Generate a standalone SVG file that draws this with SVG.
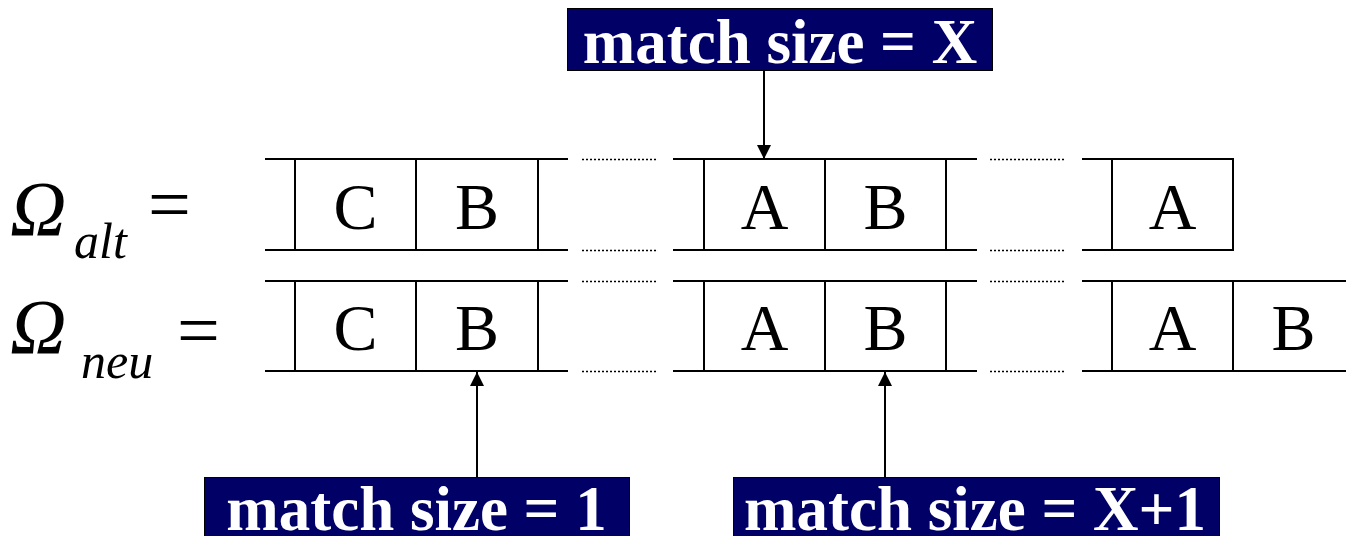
<svg xmlns="http://www.w3.org/2000/svg" width="1346" height="536" viewBox="0 0 1346 536">
  <style>
    .rail { stroke: #000; stroke-width: 2; fill: none; }
    .cell { stroke: #000; stroke-width: 2; fill: none; }
    .dots { stroke: #000; stroke-width: 1.3; stroke-dasharray: 2 2; fill: none; }
    .sym { font-family: "Liberation Serif", "Times New Roman", serif; font-size: 66px; fill: #000; text-anchor: middle; }
    .omega { font-family: "Liberation Serif", "Times New Roman", serif; font-style: italic; fill: #000; }
    .eq { font-family: "Liberation Serif", "Times New Roman", serif; fill: #000; }
    .tag { fill: #000066; stroke: #000; stroke-width: 1; }
    .tagtext { font-family: "Liberation Serif", "Times New Roman", serif; font-weight: bold; font-size: 63px; fill: #fff; text-anchor: middle; }
    .conn { stroke: #000; stroke-width: 2; fill: none; }
  </style>
  <defs>
    <marker id="arrow" viewBox="0 0 14 14" refX="14" refY="7" markerWidth="14" markerHeight="14" markerUnits="userSpaceOnUse" orient="auto">
      <path d="M0,0 L14,7 L0,14 Z" fill="#000"/>
    </marker>
  </defs>

  <!-- row labels -->
  <g id="label-alt">
    <text class="omega" x="10" y="235" font-size="78">Ω</text>
    <text class="omega" x="74" y="258" font-size="50">alt</text>
    <text class="eq" x="148" y="230" font-size="76">=</text>
  </g>
  <g id="label-neu">
    <text class="omega" x="10" y="353" font-size="78">Ω</text>
    <text class="omega" x="81" y="378" font-size="50">neu</text>
    <text class="eq" x="177" y="356" font-size="76">=</text>
  </g>

  <!-- old sequence -->
  <g id="seq-alt">
    <g id="alt-seg1">
      <line class="rail" x1="265" y1="159" x2="568" y2="159"/>
      <line class="rail" x1="265" y1="250" x2="568" y2="250"/>
      <line class="cell" x1="295" y1="159" x2="295" y2="250"/>
      <line class="cell" x1="416" y1="159" x2="416" y2="250"/>
      <line class="cell" x1="538" y1="159" x2="538" y2="250"/>
      <text class="sym" x="355.5" y="229">C</text>
      <text class="sym" x="477" y="229">B</text>
    </g>
    <line class="dots" x1="582" y1="159.5" x2="656" y2="159.5"/>
    <line class="dots" x1="582" y1="250.5" x2="656" y2="250.5"/>
    <g id="alt-seg2">
      <line class="rail" x1="673" y1="159" x2="977" y2="159"/>
      <line class="rail" x1="673" y1="250" x2="977" y2="250"/>
      <line class="cell" x1="704" y1="159" x2="704" y2="250"/>
      <line class="cell" x1="825" y1="159" x2="825" y2="250"/>
      <line class="cell" x1="946" y1="159" x2="946" y2="250"/>
      <text class="sym" x="764.5" y="229">A</text>
      <text class="sym" x="885.5" y="229">B</text>
    </g>
    <line class="dots" x1="990" y1="159.5" x2="1064" y2="159.5"/>
    <line class="dots" x1="990" y1="250.5" x2="1064" y2="250.5"/>
    <g id="alt-seg3">
      <line class="rail" x1="1082" y1="159" x2="1233" y2="159"/>
      <line class="rail" x1="1082" y1="250" x2="1233" y2="250"/>
      <line class="cell" x1="1112" y1="159" x2="1112" y2="250"/>
      <line class="cell" x1="1233" y1="158" x2="1233" y2="251"/>
      <text class="sym" x="1172.5" y="229">A</text>
    </g>
  </g>

  <!-- new sequence -->
  <g id="seq-neu">
    <g id="neu-seg1">
      <line class="rail" x1="265" y1="281" x2="568" y2="281"/>
      <line class="rail" x1="265" y1="371" x2="568" y2="371"/>
      <line class="cell" x1="295" y1="281" x2="295" y2="371"/>
      <line class="cell" x1="416" y1="281" x2="416" y2="371"/>
      <line class="cell" x1="538" y1="281" x2="538" y2="371"/>
      <text class="sym" x="355.5" y="350">C</text>
      <text class="sym" x="477" y="350">B</text>
    </g>
    <line class="dots" x1="582" y1="281.5" x2="656" y2="281.5"/>
    <line class="dots" x1="582" y1="371.5" x2="656" y2="371.5"/>
    <g id="neu-seg2">
      <line class="rail" x1="673" y1="281" x2="977" y2="281"/>
      <line class="rail" x1="673" y1="371" x2="977" y2="371"/>
      <line class="cell" x1="704" y1="281" x2="704" y2="371"/>
      <line class="cell" x1="825" y1="281" x2="825" y2="371"/>
      <line class="cell" x1="946" y1="281" x2="946" y2="371"/>
      <text class="sym" x="764.5" y="350">A</text>
      <text class="sym" x="885.5" y="350">B</text>
    </g>
    <line class="dots" x1="990" y1="281.5" x2="1064" y2="281.5"/>
    <line class="dots" x1="990" y1="371.5" x2="1064" y2="371.5"/>
    <g id="neu-seg3">
      <line class="rail" x1="1082" y1="281" x2="1346" y2="281"/>
      <line class="rail" x1="1082" y1="371" x2="1346" y2="371"/>
      <line class="cell" x1="1112" y1="281" x2="1112" y2="371"/>
      <line class="cell" x1="1233" y1="281" x2="1233" y2="371"/>
      <text class="sym" x="1172.5" y="350">A</text>
      <text class="sym" x="1293.5" y="350">B</text>
    </g>
  </g>

  <!-- match size callouts (the lower two run past the bottom edge) -->
  <g id="tag-x">
    <rect class="tag" x="567.5" y="8.5" width="425" height="62"/>
    <text class="tagtext" x="780" y="63">match size = X</text>
  </g>
  <g id="tag-1">
    <rect class="tag" x="204.5" y="477.5" width="425" height="70"/>
    <text class="tagtext" x="416.5" y="530">match size = 1</text>
  </g>
  <g id="tag-x1">
    <rect class="tag" x="733.5" y="477.5" width="486" height="70"/>
    <text class="tagtext" x="975" y="530">match size = X+1</text>
  </g>

  <!-- connectors -->
  <g id="connectors">
    <line class="conn" x1="764" y1="71" x2="764" y2="159" marker-end="url(#arrow)"/>
    <line class="conn" x1="477" y1="477" x2="477" y2="372" marker-end="url(#arrow)"/>
    <line class="conn" x1="885" y1="477" x2="885" y2="372" marker-end="url(#arrow)"/>
  </g>
</svg>
